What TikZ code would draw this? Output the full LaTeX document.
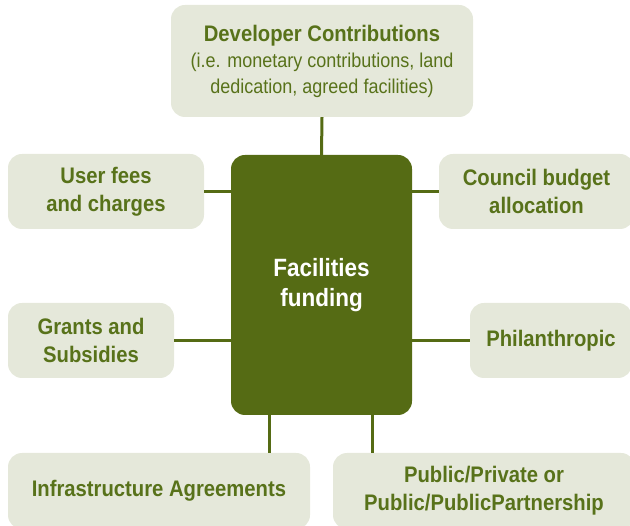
\documentclass[tikz,border=0pt]{standalone}
\usepackage{fontspec}
\setmainfont[FakeStretch=0.9]{Liberation Sans}
\definecolor{dark}{HTML}{556B14}
\definecolor{light}{HTML}{E5E8DA}
\definecolor{txt}{HTML}{58721A}
\begin{document}
\begin{tikzpicture}[x=1pt,y=-1pt,
  src/.style={fill=light, rounded corners=14pt, text=txt, font=\bfseries\fontsize{22.5}{28}\selectfont, align=center, inner sep=0pt},
  hub/.style={fill=dark, rounded corners=14pt, text=white, font=\bfseries\fontsize{25}{30}\selectfont, align=center, inner sep=0pt},
  link/.style={draw=dark, line width=3pt}]
\useasboundingbox (0,0) rectangle (630,526);
\clip (0,0) rectangle (630,526);
\node[src, font=\mdseries\fontsize{20}{26}\selectfont, minimum width=302, minimum height=112] (dev) at (322,61) {{\bfseries\fontsize{22.5}{26}\selectfont Developer Contributions}\\(i.e. monetary contributions, land\\dedication, agreed facilities)};
\node[hub, minimum width=181, minimum height=260] (hub) at (321.5,285) {Facilities\\funding};
\node[src, minimum width=196, minimum height=75] (user) at (106,191.5) {User fees\\and charges};
\node[src, minimum width=195, minimum height=75] (council) at (536.5,191.5) {Council budget\\allocation};
\node[src, minimum width=166, minimum height=75] (grants) at (91,340.5) {Grants and\\Subsidies};
\node[src, minimum width=162, minimum height=75] (phil) at (551,340.5) {Philanthropic};
\node[src, minimum width=302, minimum height=76] (infra) at (159,491) {Infrastructure Agreements};
\node[src, minimum width=302, minimum height=76] (public) at (484,491) {Public/Private or\\Public/PublicPartnership};
\draw[link] (dev.south) -- (hub.north);
\draw[link] (user.east) -- (user.east -| hub.west);
\draw[link] (council.west) -- (council.west -| hub.east);
\draw[link] (grants.east) -- (grants.east -| hub.west);
\draw[link] (phil.west) -- (phil.west -| hub.east);
\draw[link] ([xshift=39pt]hub.south west) -- ([xshift=39pt]hub.south west |- infra.north);
\draw[link] ([xshift=142pt]hub.south west) -- ([xshift=142pt]hub.south west |- public.north);
\end{tikzpicture}
\end{document}
